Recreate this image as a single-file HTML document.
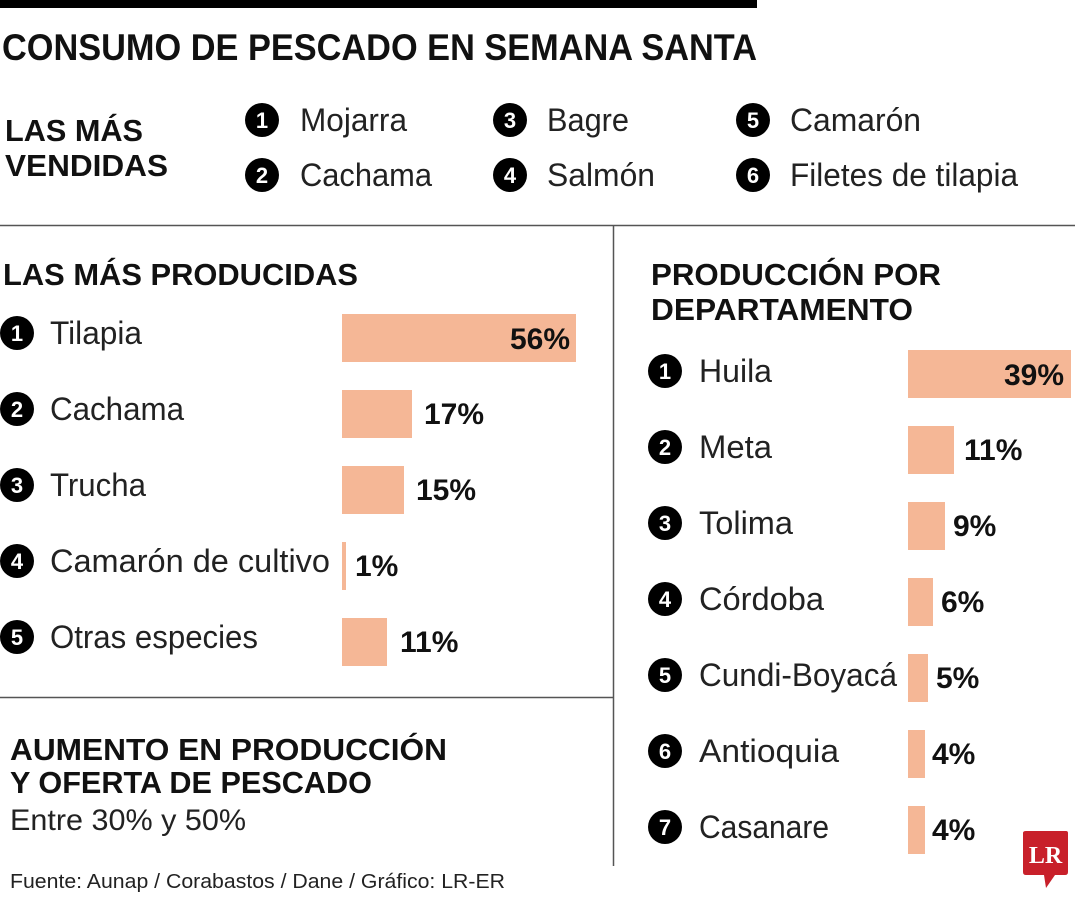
<!DOCTYPE html>
<html><head><meta charset="utf-8"><style>
html,body{margin:0;padding:0;background:#fff;width:1080px;height:900px;overflow:hidden}
svg{display:block}
.b{font-family:"Liberation Sans",sans-serif;font-weight:bold;fill:#111}
.l{font-family:"Liberation Sans",sans-serif;fill:#222}
.n{font-family:"Liberation Sans",sans-serif;font-weight:bold;fill:#fff;font-size:22px;text-anchor:middle}
</style></head><body>
<svg width="1080" height="900" viewBox="0 0 1080 900">
<rect x="0" y="0" width="757" height="8" fill="#000"/>
<text class="b" x="2" y="60" font-size="37" textLength="755" lengthAdjust="spacingAndGlyphs">CONSUMO DE PESCADO EN SEMANA SANTA</text>
<text class="b" x="5" y="141" font-size="31" textLength="138" lengthAdjust="spacingAndGlyphs">LAS MÁS</text>
<text class="b" x="5" y="176" font-size="31" textLength="163" lengthAdjust="spacingAndGlyphs">VENDIDAS</text>
<g>
<circle cx="262" cy="120" r="17" fill="#000"/><text class="n" x="262" y="128">1</text>
<circle cx="262" cy="175" r="17" fill="#000"/><text class="n" x="262" y="183">2</text>
<circle cx="510" cy="120" r="17" fill="#000"/><text class="n" x="510" y="128">3</text>
<circle cx="510" cy="175" r="17" fill="#000"/><text class="n" x="510" y="183">4</text>
<circle cx="753" cy="120" r="17" fill="#000"/><text class="n" x="753" y="128">5</text>
<circle cx="753" cy="175" r="17" fill="#000"/><text class="n" x="753" y="183">6</text>
</g>
<g class="l" font-size="32">
<text x="300" y="131" textLength="107" lengthAdjust="spacingAndGlyphs">Mojarra</text>
<text x="300" y="186" textLength="132" lengthAdjust="spacingAndGlyphs">Cachama</text>
<text x="547" y="131" textLength="82" lengthAdjust="spacingAndGlyphs">Bagre</text>
<text x="547" y="186" textLength="108" lengthAdjust="spacingAndGlyphs">Salmón</text>
<text x="790" y="131" textLength="131" lengthAdjust="spacingAndGlyphs">Camarón</text>
<text x="790" y="186" textLength="228" lengthAdjust="spacingAndGlyphs">Filetes de tilapia</text>
</g>
<line x1="0" y1="225.5" x2="1075" y2="225.5" stroke="#555" stroke-width="1.5"/>
<line x1="613.5" y1="225" x2="613.5" y2="866" stroke="#555" stroke-width="1.5"/>
<line x1="0" y1="697.5" x2="613" y2="697.5" stroke="#555" stroke-width="1.5"/>
<text class="b" x="3" y="285" font-size="31" textLength="355" lengthAdjust="spacingAndGlyphs">LAS MÁS PRODUCIDAS</text>
<g fill="#f5b796">
<rect x="342" y="314" width="234" height="48"/>
<rect x="342" y="390" width="70" height="48"/>
<rect x="342" y="466" width="62" height="48"/>
<rect x="342" y="542" width="4" height="48"/>
<rect x="342" y="618" width="45" height="48"/>
</g>
<g>
<circle cx="17" cy="333" r="17" fill="#000"/><text class="n" x="17" y="341">1</text>
<circle cx="17" cy="409" r="17" fill="#000"/><text class="n" x="17" y="417">2</text>
<circle cx="17" cy="485" r="17" fill="#000"/><text class="n" x="17" y="493">3</text>
<circle cx="17" cy="561" r="17" fill="#000"/><text class="n" x="17" y="569">4</text>
<circle cx="17" cy="637" r="17" fill="#000"/><text class="n" x="17" y="645">5</text>
</g>
<g class="l" font-size="32">
<text x="50" y="344" textLength="92" lengthAdjust="spacingAndGlyphs">Tilapia</text>
<text x="50" y="420" textLength="134" lengthAdjust="spacingAndGlyphs">Cachama</text>
<text x="50" y="496" textLength="96" lengthAdjust="spacingAndGlyphs">Trucha</text>
<text x="50" y="572" textLength="280" lengthAdjust="spacingAndGlyphs">Camarón de cultivo</text>
<text x="50" y="648" textLength="208" lengthAdjust="spacingAndGlyphs">Otras especies</text>
</g>
<g class="b" font-size="30">
<text x="570" y="349" text-anchor="end">56%</text>
<text x="424" y="424">17%</text>
<text x="416" y="500">15%</text>
<text x="355" y="576">1%</text>
<text x="400" y="652">11%</text>
</g>
<text class="b" x="651" y="285" font-size="31" textLength="290" lengthAdjust="spacingAndGlyphs">PRODUCCIÓN POR</text>
<text class="b" x="651" y="320" font-size="31" textLength="262" lengthAdjust="spacingAndGlyphs">DEPARTAMENTO</text>
<g fill="#f5b796">
<rect x="908" y="350" width="163" height="48"/>
<rect x="908" y="426" width="46" height="48"/>
<rect x="908" y="502" width="37" height="48"/>
<rect x="908" y="578" width="25" height="48"/>
<rect x="908" y="654" width="20" height="48"/>
<rect x="908" y="730" width="17" height="48"/>
<rect x="908" y="806" width="17" height="48"/>
</g>
<g>
<circle cx="665" cy="371" r="17" fill="#000"/><text class="n" x="665" y="379">1</text>
<circle cx="665" cy="447" r="17" fill="#000"/><text class="n" x="665" y="455">2</text>
<circle cx="665" cy="523" r="17" fill="#000"/><text class="n" x="665" y="531">3</text>
<circle cx="665" cy="599" r="17" fill="#000"/><text class="n" x="665" y="607">4</text>
<circle cx="665" cy="675" r="17" fill="#000"/><text class="n" x="665" y="683">5</text>
<circle cx="665" cy="751" r="17" fill="#000"/><text class="n" x="665" y="759">6</text>
<circle cx="665" cy="827" r="17" fill="#000"/><text class="n" x="665" y="835">7</text>
</g>
<g class="l" font-size="32">
<text x="699" y="382" textLength="73" lengthAdjust="spacingAndGlyphs">Huila</text>
<text x="699" y="458" textLength="73" lengthAdjust="spacingAndGlyphs">Meta</text>
<text x="699" y="534" textLength="94" lengthAdjust="spacingAndGlyphs">Tolima</text>
<text x="699" y="610" textLength="125" lengthAdjust="spacingAndGlyphs">Córdoba</text>
<text x="699" y="686" textLength="198" lengthAdjust="spacingAndGlyphs">Cundi-Boyacá</text>
<text x="699" y="762" textLength="140" lengthAdjust="spacingAndGlyphs">Antioquia</text>
<text x="699" y="838" textLength="130" lengthAdjust="spacingAndGlyphs">Casanare</text>
</g>
<g class="b" font-size="30">
<text x="1064" y="385" text-anchor="end">39%</text>
<text x="964" y="460">11%</text>
<text x="953" y="536">9%</text>
<text x="941" y="612">6%</text>
<text x="936" y="688">5%</text>
<text x="932" y="764">4%</text>
<text x="932" y="840">4%</text>
</g>
<text class="b" x="10" y="760" font-size="31" textLength="437" lengthAdjust="spacingAndGlyphs">AUMENTO EN PRODUCCIÓN</text>
<text class="b" x="10" y="793" font-size="31" textLength="362" lengthAdjust="spacingAndGlyphs">Y OFERTA DE PESCADO</text>
<text class="l" x="10" y="830" font-size="30" textLength="236" lengthAdjust="spacingAndGlyphs">Entre 30% y 50%</text>
<text class="l" x="10" y="888" font-size="20" textLength="495" lengthAdjust="spacingAndGlyphs">Fuente: Aunap / Corabastos / Dane / Gráfico: LR-ER</text>
<path d="M1026 831 H1066 Q1068 831 1068 833 V872 Q1068 875 1065 875 H1055 L1046 888 L1044 875 H1026 Q1023 875 1023 872 V833 Q1023 831 1026 831 Z" fill="#c8202a"/>
<text x="1045.5" y="863" font-family="Liberation Serif,serif" font-weight="bold" font-size="24" fill="#fff" text-anchor="middle">LR</text>
</svg>
</body></html>
